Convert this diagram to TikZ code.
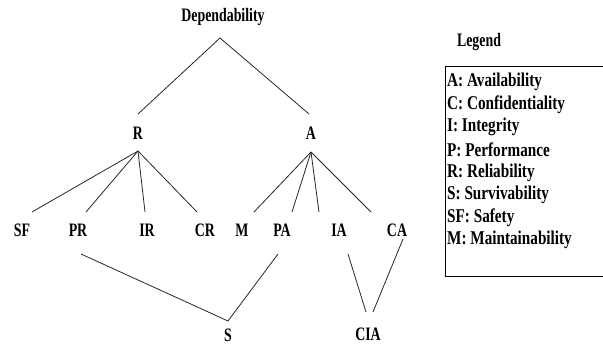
\documentclass[tikz,border=0pt]{standalone}
\usepackage{fontspec}
\setmainfont{Liberation Serif}
\newfontfamily\tallfont[FakeStretch=0.73, UprightFont=*-Bold]{Liberation Serif}
\newfontfamily\legfont[FakeStretch=0.78, UprightFont=*-Bold]{Liberation Serif}
\begin{document}
\begin{tikzpicture}[x=1pt,y=-1pt,
  lbl/.style={font=\tallfont\fontsize{19}{21}\selectfont, inner sep=0pt},
  leg/.style={font=\legfont\fontsize{19.5}{22}\selectfont, anchor=west, inner sep=0pt},
  conn/.style={line width=0.8pt, draw=black!85}]
\useasboundingbox (0,0) rectangle (603,345);
% tree labels
\node[lbl] (dep) at (223,17) {Dependability};
\node[lbl] (R) at (138,133) {R};
\node[lbl] (A) at (311,133) {A};
\node[lbl] (SF) at (22,230) {SF};
\node[lbl] (PR) at (78,230) {PR};
\node[lbl] (IR) at (147,230) {IR};
\node[lbl] (CR) at (205,230) {CR};
\node[lbl] (M) at (242,230) {M};
\node[lbl] (PA) at (282,230) {PA};
\node[lbl] (IA) at (339,230) {IA};
\node[lbl] (CA) at (397,230) {CA};
\node[lbl] (S) at (228,335) {S};
\node[lbl] (CIA) at (368,334) {CIA};
% connector end points
\coordinate (depB) at (220,38);
\coordinate (Rt) at (138,114);
\coordinate (At) at (309,114);
\coordinate (Rb) at (138,151);
\coordinate (Ab) at (311,152);
\coordinate (SFt) at (32,212);
\coordinate (PRt) at (86,212);
\coordinate (IRt) at (145,212);
\coordinate (CRt) at (197,212);
\coordinate (Mt) at (254,212);
\coordinate (PAt) at (292,212);
\coordinate (IAt) at (319,212);
\coordinate (CAt) at (371,212);
\coordinate (PRb) at (81,254);
\coordinate (St) at (228,321);
\coordinate (PAb) at (278,254);
\coordinate (IAb) at (348,254);
\coordinate (CAb) at (403,239);
\coordinate (CIAl) at (366,312);
\coordinate (CIAr) at (373,312);
% connectors
\draw[conn] (Rt) -- (depB) -- (At);
\draw[conn] (Rb) -- (SFt);
\draw[conn] (Rb) -- (PRt);
\draw[conn] (Rb) -- (IRt);
\draw[conn] (Rb) -- (CRt);
\draw[conn] (Ab) -- (Mt);
\draw[conn] (Ab) -- (PAt);
\draw[conn] (Ab) -- (IAt);
\draw[conn] (Ab) -- (CAt);
\draw[conn] (PRb) -- (St) -- (PAb);
\draw[conn] (IAb) -- (CIAl);
\draw[conn] (CAb) -- (CIAr);
% legend
\node[lbl] (legtitle) at (479,42) {Legend};
\node[draw, line width=1.3pt, anchor=north west, minimum width=162pt, minimum height=210pt, inner sep=0pt] (box) at (445,66) {};
\node[leg] (l1) at (447,82) {A: Availability};
\node[leg] (l2) at (447,104.6) {C: Confidentiality};
\node[leg] (l3) at (447,127.2) {I: Integrity};
\node[leg] (l4) at (447,149.8) {P: Performance};
\node[leg] (l5) at (447,172.4) {R: Reliability};
\node[leg] (l6) at (447,195) {S: Survivability};
\node[leg] (l7) at (447,217.6) {SF: Safety};
\node[leg] (l8) at (447,240.2) {M: Maintainability};
\end{tikzpicture}
\end{document}
